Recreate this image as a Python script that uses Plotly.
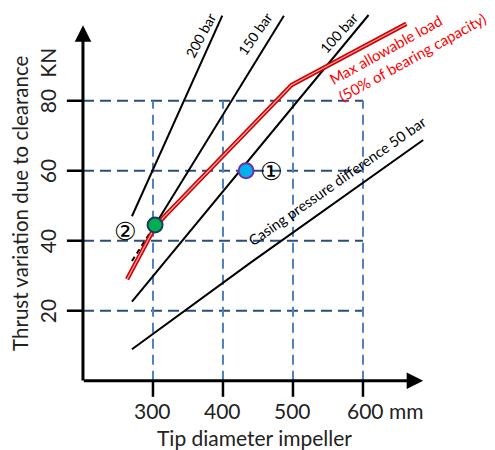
import plotly.graph_objects as go

# ---- data ----
x_ticks = [300, 400, 500, 600]
x_tick_labels = ["300", "400", "500", "600 mm"]
y_ticks = [20, 40, 60, 80]
y_tick_labels = ["20", "40", "60", "80"]

bar200_x = [270, 399]
bar200_y = [47.0, 104.3]
bar150_dash_x = [270, 303]
bar150_dash_y = [34.2, 44.5]
bar150_x = [303, 487]
bar150_y = [44.5, 104.3]
bar100_x = [270, 608]
bar100_y = [22.6, 104.5]
bar50_x = [270, 440, 686]
bar50_y = [9.0, 33.8, 68.8]
maxload_x = [263, 288, 303, 318, 498, 662]
maxload_y = [29.0, 38.5, 44.0, 47.3, 84.5, 102.0]

point1 = (433, 60)
point2 = (303, 44.5)

FONT = "Lato, DejaVu Sans, sans-serif"

fig = go.Figure()

# grid (dashed)
shapes = []
for yv in y_ticks:
    shapes.append(dict(type="line", xref="x", yref="y", x0=200, x1=600, y0=yv, y1=yv,
                       line=dict(color="#2A4D7E", width=2, dash="11px,6px"), layer="below"))
for xv in x_ticks:
    shapes.append(dict(type="line", xref="x", yref="y", x0=xv, x1=xv, y0=0, y1=80,
                       line=dict(color="#4F81BD", width=2, dash="10px,6px"), layer="below"))
# ticks
for xv in x_ticks:
    shapes.append(dict(type="line", xref="x", yref="y", x0=xv, x1=xv, y0=0, y1=-4.6,
                       line=dict(color="black", width=2.5)))
for yv in y_ticks:
    shapes.append(dict(type="line", xref="x", yref="y", x0=177, x1=200, y0=yv, y1=yv,
                       line=dict(color="black", width=2.5)))

def add_line(xs, ys, dash="solid", color="black", width=2):
    fig.add_trace(go.Scatter(x=xs, y=ys, mode="lines", hoverinfo="skip",
                             line=dict(color=color, width=width, dash=dash)))

add_line(bar200_x, bar200_y)
add_line(bar150_x, bar150_y)
add_line(bar150_dash_x, bar150_dash_y, dash="5px,4px")
add_line(bar100_x, bar100_y)
add_line(bar50_x, bar50_y)
add_line(maxload_x, maxload_y, color="#D00000", width=4.5)
add_line(maxload_x, maxload_y, color="#F4A0A0", width=1.3)

fig.add_trace(go.Scatter(x=[point2[0]], y=[point2[1]], mode="markers", hoverinfo="skip",
                         marker=dict(size=15, color="#00B050", line=dict(color="#1F3864", width=2))))
fig.add_trace(go.Scatter(x=[point1[0]], y=[point1[1]], mode="markers", hoverinfo="skip",
                         marker=dict(size=15, color="#00B0F0", line=dict(color="#7030A0", width=2))))

ann = []
# axes with arrows
ann.append(dict(x=686, y=0, ax=199, ay=0, xref="x", yref="y", axref="x", ayref="y",
                text="", showarrow=True, arrowhead=2, arrowsize=1.1, arrowwidth=3, arrowcolor="black"))
ann.append(dict(x=200, y=101.6, ax=200, ay=-0.4, xref="x", yref="y", axref="x", ayref="y",
                text="", showarrow=True, arrowhead=2, arrowsize=1.1, arrowwidth=3, arrowcolor="black"))

TF = dict(family=FONT, size=21, color="#222")
for xv, lab in zip(x_ticks, x_tick_labels):
    if lab.endswith("mm"):
        ann.append(dict(x=574.0, y=-8.4, text=lab, showarrow=False, xanchor="left", font=TF))
    else:
        ann.append(dict(x=xv, y=-8.4, text=lab, showarrow=False, font=TF))
for yv, lab in zip(y_ticks, y_tick_labels):
    ann.append(dict(x=149.3, y=yv, text=lab, showarrow=False, textangle=-90, font=TF))
ann.append(dict(x=149.3, y=91.0, text="KN", showarrow=False, textangle=-90, font=TF))

ann.append(dict(x=445.7, y=-16.3, text="Tip diameter impeller", showarrow=False, font=TF))
ann.append(dict(x=109.0, y=50.6, text="Thrust variation due to clearance", showarrow=False,
                textangle=-90, font=dict(family=FONT, size=20.5, color="#222")))

LF = dict(family=FONT, size=14, color="black")
ann.append(dict(x=368, y=98.6, text="200 bar", showarrow=False, textangle=-62, font=LF,
                borderpad=0))
ann.append(dict(x=446, y=99.2, text="150 bar", showarrow=False, textangle=-55, font=LF,
                borderpad=0))
ann.append(dict(x=566, y=99.4, text="100 bar", showarrow=False, textangle=-48, font=LF,
                borderpad=0))
ann.append(dict(x=564.3, y=57.1, text="Casing pressure difference 50 bar", showarrow=False,
                textangle=-35, font=dict(family=FONT, size=14.5, color="black")))
ann.append(dict(x=663, y=94.8, text="Max allowable load<br>(50% of bearing capacity)",
                showarrow=False, textangle=-29, align="left",
                font=dict(family=FONT, size=15, color="#FF0000")))

ann.append(dict(x=468, y=59.7, text="①", showarrow=False,
                font=dict(family="DejaVu Sans", size=25, color="black")))
ann.append(dict(x=260, y=42.5, text="②", showarrow=False,
                font=dict(family="DejaVu Sans", size=25, color="black")))

# page body has an 8px margin: the figure starts at page pixel (8, 8)
fig.update_layout(
    width=487, height=442,
    margin=dict(l=0, r=0, t=0, b=0),
    paper_bgcolor="white", plot_bgcolor="white",
    showlegend=False,
    shapes=shapes, annotations=ann,
    xaxis=dict(range=[92.9, 788.6], visible=False, fixedrange=True),
    yaxis=dict(range=[-19.8, 106.5], visible=False, fixedrange=True),
)

fig.write_html("out.html")
